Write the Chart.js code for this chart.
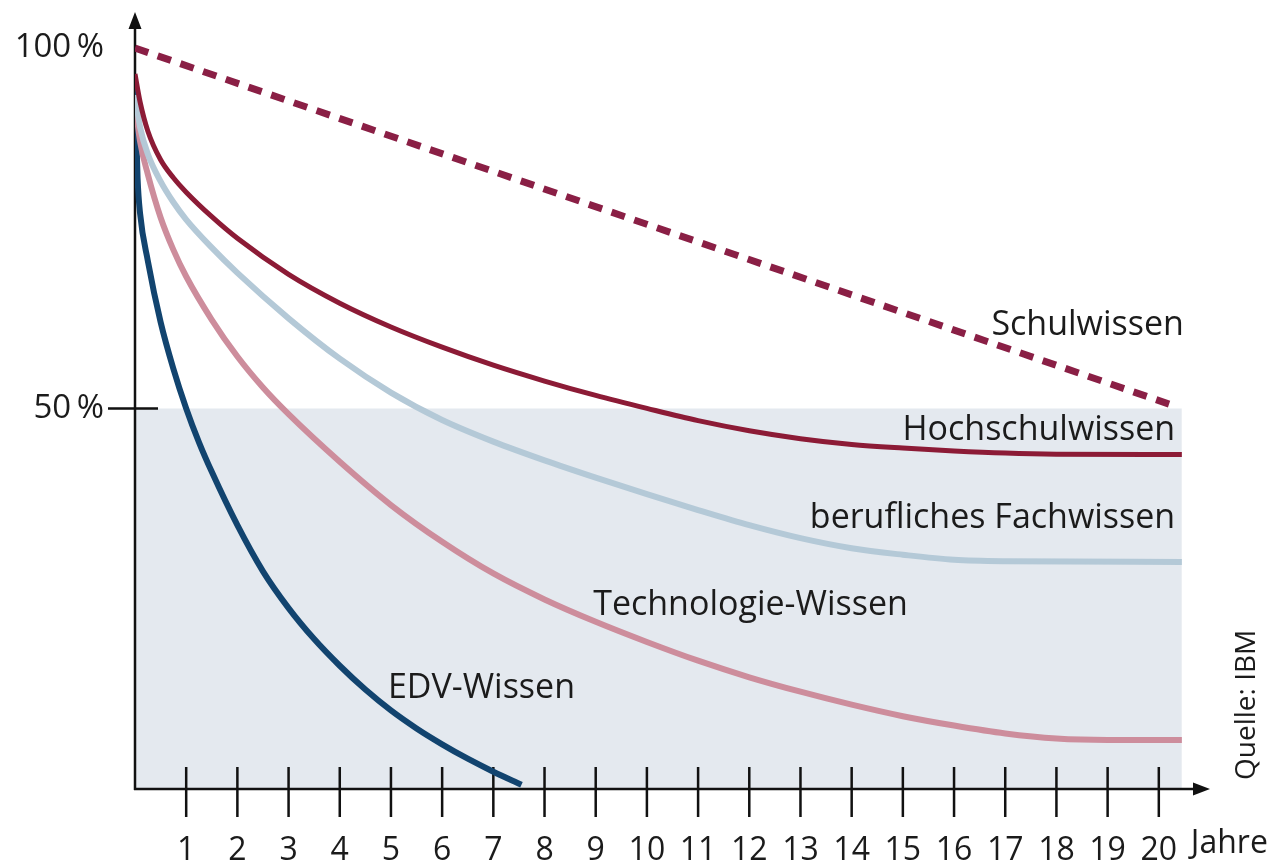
<!DOCTYPE html>
<html lang="de">
<head>
<meta charset="utf-8">
<title>Halbwertszeit des Wissens</title>
<script src="https://cdn.jsdelivr.net/npm/chart.js@4.4.1/dist/chart.umd.min.js"></script>
<style>
  html, body { margin: 0; padding: 0; background: #fff; }
  #wrap { position: relative; width: 1277px; height: 863px; }
</style>
</head>
<body>
<div id="wrap"><canvas id="chart"></canvas></div>
<script>
/* Halbwertszeit des Wissens (Quelle: IBM) */
const YEAR_TICKS = [1, 2, 3, 4, 5, 6, 7, 8, 9, 10, 11, 12, 13, 14, 15, 16, 17, 18, 19, 20];
const PERCENT_TICKS = [50, 100];

// Schulwissen (dashed, straight)
const SCHUL_X = [0, 20.2];
const SCHUL_Y = [100, 50.6];

// Hochschulwissen
const HOCH_X = [0, 0.1, 0.25, 0.5, 0.75, 1, 1.5, 2, 3, 4, 5, 6, 7, 8, 9, 10, 11, 12, 13, 14, 15, 16, 17, 18, 20.45];
const HOCH_Y = [96.4, 92.5, 88.5, 84.5, 82, 80, 76.6, 73.6, 68.6, 64.6, 61.3, 58.5, 56.0, 53.8, 51.8, 50.0, 48.3, 46.9, 45.8, 45.0, 44.5, 44.1, 43.8, 43.65, 43.6];

// berufliches Fachwissen
const FACH_X = [0, 0.1, 0.25, 0.5, 0.75, 1, 1.5, 2, 3, 4, 5, 6, 7, 8, 9, 10, 11, 12, 13, 14, 15, 16, 17, 20.45];
const FACH_Y = [93.5, 89, 85.3, 81.5, 78.6, 76.2, 72.3, 68.8, 62.5, 56.9, 52.2, 48.4, 45.4, 42.8, 40.4, 38.1, 35.9, 33.8, 32.0, 30.6, 29.7, 29.0, 28.8, 28.7];

// Technologie-Wissen
const TECH_X = [0, 0.1, 0.25, 0.5, 0.75, 1, 1.5, 2, 2.5, 3, 4, 5, 6, 7, 8, 9, 10, 11, 12, 13, 14, 15, 16, 17, 18, 19, 20.45];
const TECH_Y = [92.5, 87, 82.5, 76.5, 72, 68.3, 62.3, 57.2, 52.9, 49.2, 42.6, 36.6, 31.5, 27.1, 23.5, 20.4, 17.6, 15.0, 12.7, 10.7, 8.9, 7.3, 6.0, 4.9, 4.2, 4.0, 4.0];

// EDV-Wissen
const EDV_X = [0, 0.05, 0.1, 0.25, 0.5, 0.75, 1, 1.25, 1.5, 2, 2.5, 3, 3.5, 4, 4.5, 5, 5.5, 6, 6.5, 7, 7.55];
const EDV_Y = [94.5, 82, 77, 70.5, 62, 55.5, 50, 45.3, 41.2, 33.8, 27.4, 22.3, 18, 14.3, 11, 8.1, 5.6, 3.4, 1.4, -0.4, -2.2];

// grey band below 50 %
const SHADE_X = [0, 20.45];
const SHADE_Y = [50, 50];

const LABEL_TEXT = ["Schulwissen", "Hochschulwissen", "berufliches Fachwissen", "Technologie-Wissen", "EDV-Wissen"];
const LABEL_AT_X = [20.49, 20.32, 20.32, 8.95, 4.94];
const LABEL_AT_Y = [60.2, 45.6, 33.4, 21.3, 9.8];
const LABEL_ALIGN = ["right", "right", "right", "left", "left"];

const FONT = "'Open Sans', 'Noto Sans', sans-serif";
const INK = "#1b1b1b";
const SHADE_INDEX = 5;

const pts = (xs, ys) => xs.map((x, i) => ({ x, y: ys[i] }));

function curve(label, xs, ys, color, width) {
  return {
    label, data: pts(xs, ys), borderColor: color, borderWidth: width,
    pointRadius: 0, fill: false, cubicInterpolationMode: "monotone",
    borderCapStyle: "butt", borderJoinStyle: "round"
  };
}

function noPadding(s) {
  s.paddingTop = 0; s.paddingBottom = 0; s.paddingLeft = 0; s.paddingRight = 0;
}

const axesPlugin = {
  id: "axes",
  afterDatasetDraw(chart, args) {
    if (args.index !== SHADE_INDEX) return;
    const { ctx, chartArea: a, scales: { x, y } } = chart;
    ctx.save();
    ctx.strokeStyle = "#111";
    ctx.fillStyle = "#111";
    ctx.lineWidth = 2.5;
    ctx.beginPath();
    ctx.moveTo(a.left, a.bottom + 1);
    ctx.lineTo(a.left, a.top + 12);
    ctx.moveTo(a.left - 1, a.bottom);
    ctx.lineTo(a.right - 12, a.bottom);
    YEAR_TICKS.forEach(v => {
      const px = x.getPixelForValue(v);
      ctx.moveTo(px, a.bottom - 22);
      ctx.lineTo(px, a.bottom + 28);
    });
    const p50 = y.getPixelForValue(50);
    ctx.moveTo(a.left - 27, p50);
    ctx.lineTo(a.left + 23, p50);
    ctx.stroke();
    // arrow heads
    ctx.beginPath();
    ctx.moveTo(a.left, a.top);
    ctx.lineTo(a.left - 6.5, a.top + 17);
    ctx.lineTo(a.left + 6.5, a.top + 17);
    ctx.closePath();
    ctx.moveTo(a.right, a.bottom);
    ctx.lineTo(a.right - 17, a.bottom - 6.5);
    ctx.lineTo(a.right - 17, a.bottom + 6.5);
    ctx.closePath();
    ctx.fill();
    ctx.restore();
  }
};

const textPlugin = {
  id: "texts",
  afterDraw(chart) {
    const { ctx, chartArea: a, scales: { x, y } } = chart;
    ctx.save();
    ctx.fillStyle = INK;
    ctx.textBaseline = "alphabetic";
    ctx.font = "34px " + FONT;
    LABEL_TEXT.forEach((t, i) => {
      ctx.textAlign = LABEL_ALIGN[i];
      ctx.fillText(t, x.getPixelForValue(LABEL_AT_X[i]), y.getPixelForValue(LABEL_AT_Y[i]));
    });
    // axis unit
    ctx.textAlign = "left";
    ctx.font = "32px " + FONT;
    ctx.fillText("Jahre", x.getPixelForValue(20) + 32, a.bottom + 64);
    // source
    ctx.font = "28px " + FONT;
    ctx.translate(1247, 780);
    ctx.rotate(-Math.PI / 2);
    ctx.textBaseline = "middle";
    ctx.fillText("Quelle: IBM", 0, 0);
    ctx.restore();
  }
};

Chart.defaults.font.family = FONT;
Chart.defaults.color = INK;

new Chart(document.getElementById("chart"), {
  type: "line",
  data: {
    datasets: [
      { ...curve("Schulwissen", SCHUL_X, SCHUL_Y, "#8a1f45", 7), borderDash: [14, 10], cubicInterpolationMode: "default", tension: 0 },
      curve("Hochschulwissen", HOCH_X, HOCH_Y, "#8c1b36", 5),
      curve("berufliches Fachwissen", FACH_X, FACH_Y, "#b4c9d7", 6),
      curve("Technologie-Wissen", TECH_X, TECH_Y, "#cd8d9c", 6),
      curve("EDV-Wissen", EDV_X, EDV_Y, "#12446f", 6),
      { label: "50%", data: pts(SHADE_X, SHADE_Y), borderWidth: 0, pointRadius: 0, fill: "start", backgroundColor: "#e4e9ef" }
    ]
  },
  options: {
    responsive: true,
    maintainAspectRatio: false,
    animation: false,
    events: [],
    layout: { padding: { top: 12, right: 67, left: 0, bottom: 0 } },
    plugins: { legend: { display: false }, tooltip: { enabled: false } },
    scales: {
      x: {
        type: "linear", min: 0, max: 21,
        border: { display: false },
        grid: { display: false },
        afterBuildTicks: s => { s.ticks = YEAR_TICKS.map(v => ({ value: v })); },
        afterFit: s => { s.height = 74; noPadding(s); },
        ticks: { font: { size: 32 }, padding: 35, maxRotation: 0, autoSkip: false, color: INK }
      },
      y: {
        min: -2.8, max: 105,
        border: { display: false },
        grid: { display: false },
        afterBuildTicks: s => { s.ticks = PERCENT_TICKS.map(v => ({ value: v })); },
        afterFit: s => { s.width = 135; noPadding(s); },
        ticks: { font: { size: 33 }, padding: 23, color: INK, callback: v => v + "\u2009%" }
      }
    }
  },
  plugins: [axesPlugin, textPlugin]
});
</script>
</body>
</html>
